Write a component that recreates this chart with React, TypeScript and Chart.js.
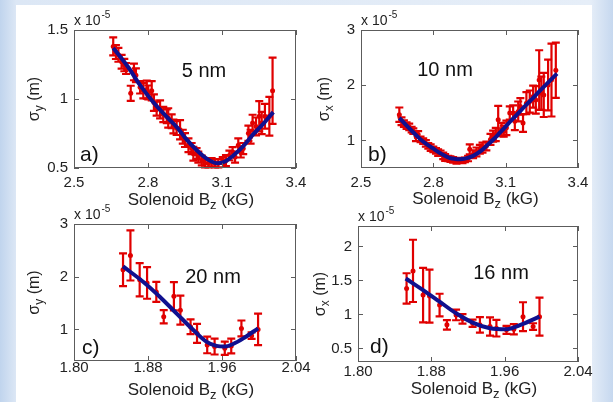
import React, { useEffect, useRef } from "react";
import { Chart, registerables } from "chart.js";

Chart.register(...registerables);

// ---------- data (values in units of 1e-5 m, B in kG) ----------
const A_X = [2.659, 2.670, 2.680, 2.693, 2.704, 2.711, 2.730, 2.743, 2.751, 2.768, 2.781, 2.795, 2.801, 2.815, 2.824, 2.835, 2.849, 2.862, 2.876, 2.882, 2.896, 2.903, 2.916, 2.930, 2.941, 2.950, 2.964, 2.977, 2.984, 2.997, 3.004, 3.018, 3.031, 3.045, 3.058, 3.072, 3.085, 3.103, 3.116, 3.130, 3.143, 3.153, 3.166, 3.176, 3.186, 3.207, 3.216, 3.224, 3.238, 3.251, 3.261, 3.274, 3.292, 3.305];
const A_Y = [1.381, 1.340, 1.320, 1.270, 1.246, 1.221, 1.041, 1.196, 1.172, 1.085, 1.060, 1.068, 1.048, 1.060, 0.974, 0.930, 0.925, 0.888, 0.875, 0.863, 0.838, 0.801, 0.789, 0.777, 0.727, 0.702, 0.665, 0.641, 0.604, 0.604, 0.579, 0.554, 0.535, 0.535, 0.542, 0.535, 0.535, 0.554, 0.554, 0.591, 0.616, 0.579, 0.665, 0.616, 0.641, 0.752, 0.727, 0.826, 0.801, 0.875, 0.826, 0.875, 0.875, 1.060];
const A_ERR = [0.065, 0.05, 0.05, 0.05, 0.045, 0.04, 0.055, 0.06, 0.05, 0.045, 0.055, 0.065, 0.05, 0.07, 0.06, 0.05, 0.065, 0.055, 0.05, 0.07, 0.05, 0.05, 0.05, 0.07, 0.05, 0.05, 0.05, 0.04, 0.05, 0.04, 0.04, 0.035, 0.03, 0.03, 0.03, 0.03, 0.03, 0.025, 0.04, 0.035, 0.035, 0.04, 0.05, 0.04, 0.04, 0.055, 0.05, 0.06, 0.065, 0.11, 0.08, 0.09, 0.14, 0.24];
const A_FIT_X = [2.659, 2.686, 2.72, 2.768, 2.82, 2.876, 2.92, 2.95, 3.0, 3.04, 3.078, 3.11, 3.146, 3.19, 3.227, 3.27, 3.308];
const A_FIT_Y = [1.37, 1.31, 1.23, 1.10, 0.98, 0.87, 0.79, 0.72, 0.625, 0.565, 0.535, 0.545, 0.59, 0.665, 0.745, 0.825, 0.905];

const B_X = [2.659, 2.668, 2.678, 2.689, 2.700, 2.710, 2.717, 2.728, 2.737, 2.747, 2.758, 2.769, 2.779, 2.789, 2.800, 2.811, 2.820, 2.830, 2.841, 2.849, 2.862, 2.871, 2.882, 2.896, 2.907, 2.921, 2.931, 2.944, 2.951, 2.965, 2.979, 2.993, 3.004, 3.020, 3.037, 3.048, 3.059, 3.069, 3.083, 3.092, 3.103, 3.117, 3.131, 3.138, 3.152, 3.161, 3.172, 3.186, 3.200, 3.214, 3.225, 3.239, 3.248, 3.258, 3.276, 3.290, 3.308];
const B_Y = [1.466, 1.346, 1.304, 1.269, 1.245, 1.197, 1.167, 1.078, 1.107, 1.018, 0.988, 0.946, 0.899, 0.869, 0.839, 0.809, 0.779, 0.767, 0.719, 0.690, 0.672, 0.660, 0.648, 0.630, 0.642, 0.630, 0.648, 0.672, 0.839, 0.749, 0.791, 0.839, 0.869, 0.899, 1.018, 1.078, 1.107, 1.376, 1.197, 1.167, 1.227, 1.496, 1.496, 1.346, 1.525, 1.615, 1.316, 1.675, 1.704, 1.794, 1.734, 2.093, 1.854, 1.824, 2.003, 2.093, 2.272];
const B_ERR = [0.13, 0.07, 0.06, 0.06, 0.06, 0.05, 0.05, 0.09, 0.06, 0.05, 0.05, 0.06, 0.05, 0.06, 0.05, 0.05, 0.06, 0.05, 0.06, 0.06, 0.05, 0.05, 0.05, 0.05, 0.04, 0.04, 0.04, 0.05, 0.09, 0.07, 0.08, 0.08, 0.09, 0.08, 0.10, 0.10, 0.12, 0.25, 0.12, 0.10, 0.13, 0.12, 0.14, 0.16, 0.18, 0.15, 0.16, 0.20, 0.20, 0.20, 0.25, 0.54, 0.30, 0.40, 0.46, 0.66, 0.50];
const B_FIT_X = [2.659, 2.70, 2.73, 2.76, 2.80, 2.84, 2.869, 2.89, 2.91, 2.935, 2.965, 3.0, 3.02, 3.05, 3.076, 3.11, 3.145, 3.18, 3.214, 3.26, 3.313];
const B_FIT_Y = [1.41, 1.22, 1.09, 0.97, 0.85, 0.74, 0.68, 0.665, 0.66, 0.675, 0.72, 0.82, 0.90, 1.02, 1.14, 1.30, 1.46, 1.62, 1.77, 1.98, 2.21];

const C_X = [1.853, 1.861, 1.871, 1.879, 1.889, 1.897, 1.908, 1.915, 1.926, 1.933, 1.944, 1.952, 1.963, 1.970, 1.981, 1.992, 1.999];
const C_Y = [2.132, 2.403, 1.943, 1.881, 1.711, 1.239, 1.629, 1.365, 1.050, 0.925, 0.704, 0.673, 0.642, 0.686, 1.019, 0.881, 1.000];
const C_ERR = [0.31, 0.475, 0.315, 0.30, 0.19, 0.126, 0.267, 0.274, 0.14, 0.18, 0.157, 0.15, 0.126, 0.14, 0.15, 0.063, 0.30];
const C_FIT_X = [1.853, 1.875, 1.893, 1.911, 1.929, 1.943, 1.954, 1.963, 1.972, 1.983, 1.999];
const C_FIT_Y = [2.195, 1.90, 1.616, 1.30, 0.987, 0.767, 0.686, 0.673, 0.723, 0.83, 1.02];

const D_X = [1.853, 1.860, 1.871, 1.878, 1.889, 1.897, 1.907, 1.914, 1.925, 1.933, 1.944, 1.951, 1.962, 1.970, 1.980, 1.991, 1.998];
const D_Y = [1.381, 1.640, 1.284, 1.269, 1.138, 0.846, 0.992, 0.933, 0.870, 0.846, 0.821, 0.797, 0.773, 0.782, 0.967, 0.821, 0.967];
const D_ERR = [0.224, 0.458, 0.40, 0.39, 0.166, 0.07, 0.078, 0.07, 0.053, 0.115, 0.134, 0.122, 0.058, 0.075, 0.212, 0.049, 0.28];
const D_FIT_X = [1.852, 1.871, 1.889, 1.907, 1.925, 1.944, 1.962, 1.980, 1.998];
const D_FIT_Y = [1.528, 1.357, 1.187, 1.016, 0.880, 0.797, 0.782, 0.860, 0.967];

const AB_X_TICKS = [2.5, 2.8, 3.1, 3.4];
const CD_X_TICKS = [1.8, 1.88, 1.96, 2.04];
const A_Y_TICKS = [0.5, 1, 1.5];
const B_Y_TICKS = [1, 2, 3];
const C_Y_TICKS = [1, 2, 3];
const D_Y_TICKS = [0.5, 1, 1.5, 2];

const NOTES = ["5 nm", "10 nm", "20 nm", "16 nm"];
const LETTERS = ["a)", "b)", "c)", "d)"];
const Y_SUBS = ["y", "x", "y", "x"];

// ---------- styling / layout ----------
const W = 613;
const H = 402;
const FONT = '"Liberation Sans", Arial, Helvetica, sans-serif';
const RED = "#e00000";
const BLUE = "#10108f";
const TEXT = "#222222";
const AXIS = "#5c5c5c";

const PANELS = [
  { xs: A_X, ys: A_Y, errs: A_ERR, fx: A_FIT_X, fy: A_FIT_Y, xTicks: AB_X_TICKS, yTicks: A_Y_TICKS, xMin: 2.5, xMax: 3.4, yMin: 0.5, yMax: 1.5, xDec: 1, note: NOTES[0], letter: LETTERS[0], sub: Y_SUBS[0], area: { l: 74, t: 30, r: 296, b: 168 }, notePos: [204, 71], letterPos: [80, 155], yTitleX: 35, xTitleY: 200, xPad: 6 },
  { xs: B_X, ys: B_Y, errs: B_ERR, fx: B_FIT_X, fy: B_FIT_Y, xTicks: AB_X_TICKS, yTicks: B_Y_TICKS, xMin: 2.5, xMax: 3.4, yMin: 0.5, yMax: 3, xDec: 1, note: NOTES[1], letter: LETTERS[1], sub: Y_SUBS[1], area: { l: 361, t: 30, r: 578, b: 168 }, notePos: [445, 70], letterPos: [368, 155], yTitleX: 325, xTitleY: 199, xPad: 6 },
  { xs: C_X, ys: C_Y, errs: C_ERR, fx: C_FIT_X, fy: C_FIT_Y, xTicks: CD_X_TICKS, yTicks: C_Y_TICKS, xMin: 1.8, xMax: 2.04, yMin: 0.4, yMax: 3, xDec: 2, note: NOTES[2], letter: LETTERS[2], sub: Y_SUBS[2], area: { l: 74, t: 224, r: 296, b: 361 }, notePos: [213, 277], letterPos: [82, 348], yTitleX: 35, xTitleY: 390, xPad: -2 },
  { xs: D_X, ys: D_Y, errs: D_ERR, fx: D_FIT_X, fy: D_FIT_Y, xTicks: CD_X_TICKS, yTicks: D_Y_TICKS, xMin: 1.8, xMax: 2.04, yMin: 0.3, yMax: 2.3, xDec: 2, note: NOTES[3], letter: LETTERS[3], sub: Y_SUBS[3], area: { l: 358, t: 226, r: 578, b: 362 }, notePos: [501, 273], letterPos: [370, 347], yTitleX: 321, xTitleY: 389, xPad: 1 },
];

function makeChart(canvas: HTMLCanvasElement, p: any) {
  const area = p.area;
  const pts = p.xs.map((x: number, i: number) => ({ x, y: p.ys[i] }));
  const fit = p.fx.map((x: number, i: number) => ({ x, y: p.fy[i] }));

  const deco = {
    id: "deco",
    beforeDatasetsDraw(chart: any) {
      const { ctx } = chart;
      const xs = chart.scales.x;
      const ys = chart.scales.y;
      ctx.save();
      ctx.strokeStyle = RED;
      ctx.lineWidth = 2.2;
      p.xs.forEach((xv: number, i: number) => {
        const px = xs.getPixelForValue(xv);
        const top = ys.getPixelForValue(p.ys[i] + p.errs[i]);
        const bot = ys.getPixelForValue(p.ys[i] - p.errs[i]);
        ctx.beginPath();
        ctx.moveTo(px, top);
        ctx.lineTo(px, bot);
        ctx.moveTo(px - 4, top);
        ctx.lineTo(px + 4, top);
        ctx.moveTo(px - 4, bot);
        ctx.lineTo(px + 4, bot);
        ctx.stroke();
      });
      ctx.restore();
    },
    afterDraw(chart: any) {
      const { ctx, chartArea: ca } = chart;
      const xs = chart.scales.x;
      const ys = chart.scales.y;
      ctx.save();
      // box
      ctx.strokeStyle = AXIS;
      ctx.lineWidth = 1;
      ctx.strokeRect(ca.left + 0.5, ca.top + 0.5, ca.right - ca.left - 1, ca.bottom - ca.top - 1);
      // inward ticks on all sides
      ctx.beginPath();
      p.xTicks.forEach((v: number) => {
        const px = Math.round(xs.getPixelForValue(v)) + 0.5;
        ctx.moveTo(px, ca.bottom);
        ctx.lineTo(px, ca.bottom - 5);
        ctx.moveTo(px, ca.top);
        ctx.lineTo(px, ca.top + 5);
      });
      p.yTicks.forEach((v: number) => {
        const py = Math.round(ys.getPixelForValue(v)) + 0.5;
        ctx.moveTo(ca.left, py);
        ctx.lineTo(ca.left + 5, py);
        ctx.moveTo(ca.right, py);
        ctx.lineTo(ca.right - 5, py);
      });
      ctx.stroke();

      ctx.fillStyle = TEXT;
      ctx.textAlign = "left";
      // exponent  x 10^-5
      ctx.textBaseline = "alphabetic";
      ctx.font = `14px ${FONT}`;
      const base = "x 10";
      ctx.fillText(base, ca.left, ca.top - 5);
      const bw = ctx.measureText(base).width;
      ctx.font = `10px ${FONT}`;
      ctx.fillText("-5", ca.left + bw + 1, ca.top - 12);

      // y title  σ_sub (m)
      ctx.save();
      ctx.translate(p.yTitleX, (ca.top + ca.bottom) / 2);
      ctx.rotate(-Math.PI / 2);
      ctx.textBaseline = "middle";
      ctx.font = `16px ${FONT}`;
      const w1 = ctx.measureText("σ").width;
      const w3 = ctx.measureText(" (m)").width;
      ctx.font = `12px ${FONT}`;
      const w2 = ctx.measureText(p.sub).width;
      const x0 = -(w1 + w2 + w3) / 2;
      ctx.font = `16px ${FONT}`;
      ctx.fillText("σ", x0, 0);
      ctx.font = `12px ${FONT}`;
      ctx.fillText(p.sub, x0 + w1, 5);
      ctx.font = `16px ${FONT}`;
      ctx.fillText(" (m)", x0 + w1 + w2, 0);
      ctx.restore();

      // x title  Solenoid B_z (kG)
      ctx.textBaseline = "middle";
      ctx.font = `17px ${FONT}`;
      const t1 = "Solenoid B";
      const t3 = " (kG)";
      const s1 = ctx.measureText(t1).width;
      const s3 = ctx.measureText(t3).width;
      ctx.font = `13px ${FONT}`;
      const s2 = ctx.measureText("z").width;
      const cx = (ca.left + ca.right) / 2 + 6;
      const xStart = cx - (s1 + s2 + s3) / 2;
      ctx.font = `17px ${FONT}`;
      ctx.fillText(t1, xStart, p.xTitleY);
      ctx.font = `13px ${FONT}`;
      ctx.fillText("z", xStart + s1, p.xTitleY + 5);
      ctx.font = `17px ${FONT}`;
      ctx.fillText(t3, xStart + s1 + s2, p.xTitleY);

      // annotation
      ctx.fillStyle = "#111111";
      ctx.textAlign = "center";
      ctx.font = `20px ${FONT}`;
      ctx.fillText(p.note, p.notePos[0], p.notePos[1]);
      // panel letter
      ctx.textAlign = "left";
      ctx.font = `21px ${FONT}`;
      ctx.fillText(p.letter, p.letterPos[0], p.letterPos[1]);
      ctx.restore();
    },
  };

  return new Chart(canvas, {
    type: "scatter",
    data: {
      datasets: [
        {
          type: "line",
          data: fit,
          borderColor: BLUE,
          borderWidth: 4,
          pointRadius: 0,
          fill: false,
          cubicInterpolationMode: "monotone",
        } as any,
        {
          type: "scatter",
          data: pts,
          backgroundColor: RED,
          borderColor: RED,
          borderWidth: 0,
          pointRadius: 2.5,
        },
      ],
    },
    options: {
      responsive: false,
      animation: false,
      devicePixelRatio: 1,
      events: [],
      layout: { padding: { left: 0, top: area.t, right: W - area.r, bottom: 0 } },
      plugins: { legend: { display: false }, tooltip: { enabled: false }, title: { display: false } },
      scales: {
        x: {
          type: "linear",
          min: p.xMin,
          max: p.xMax,
          grid: { display: false, drawTicks: false },
          border: { display: false },
          ticks: {
            autoSkip: false,
            maxRotation: 0,
            minRotation: 0,
            padding: p.xPad,
            color: TEXT,
            font: { size: 15, family: FONT },
            callback: (v: any) => Number(v).toFixed(p.xDec),
          },
          afterBuildTicks: (s: any) => {
            s.ticks = p.xTicks.map((v: number) => ({ value: v }));
          },
          afterFit: (s: any) => {
            s.height = H - area.b;
          },
        },
        y: {
          type: "linear",
          min: p.yMin,
          max: p.yMax,
          grid: { display: false, drawTicks: false },
          border: { display: false },
          ticks: {
            autoSkip: false,
            padding: 6,
            color: TEXT,
            font: { size: 15, family: FONT },
            callback: (v: any) => String(v),
          },
          afterBuildTicks: (s: any) => {
            s.ticks = p.yTicks.map((v: number) => ({ value: v }));
          },
          afterFit: (s: any) => {
            s.width = area.l;
          },
        },
      },
    } as any,
    plugins: [deco],
  });
}

function Panel({ p }: { p: any }) {
  const ref = useRef<HTMLCanvasElement | null>(null);
  useEffect(() => {
    if (!ref.current) return;
    const chart = makeChart(ref.current, p);
    return () => chart.destroy();
  }, [p]);
  return (
    <canvas
      ref={ref}
      width={W}
      height={H}
      style={{ position: "absolute", left: 0, top: 0, width: W, height: H }}
    />
  );
}

export default function App() {
  useEffect(() => {
    document.body.style.margin = "0";
  }, []);
  return (
    <div
      style={{
        position: "absolute",
        left: 0,
        top: 0,
        width: W,
        height: H,
        overflow: "hidden",
        background: "linear-gradient(to right, #c0d4ed 0px, #dce7f5 16px, #e6eef8 590px, #c6d8ef 613px)",
      }}
    >
      <div style={{ position: "absolute", left: 16, top: 5, width: 576, height: 397, background: "#ffffff" }} />
      {PANELS.map((p, i) => (
        <Panel key={i} p={p} />
      ))}
    </div>
  );
}
